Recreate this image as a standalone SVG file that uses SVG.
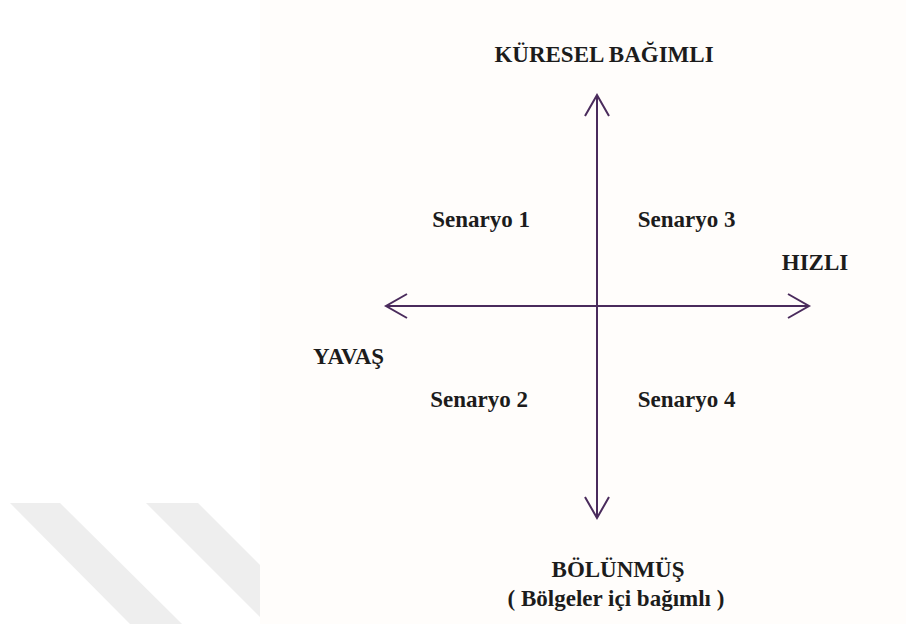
<svg xmlns="http://www.w3.org/2000/svg" width="906" height="624" viewBox="0 0 906 624">
  <style>
    .lbl { font-family: "Liberation Serif", "Times New Roman", serif; font-weight: bold; font-size: 23px; fill: #1c1c1c; text-anchor: middle; }
    .axis { stroke: #4a2b5c; stroke-width: 2; fill: none; }
    .stripe { fill: #eeeeee; }
  </style>
  <defs>
    <marker id="openArrow" markerUnits="userSpaceOnUse" markerWidth="30" markerHeight="30" viewBox="-25 -15 30 30" refX="0" refY="0" orient="auto">
      <path d="M-21,-12 L0,0 L-21,12" fill="none" stroke="#4a2b5c" stroke-width="2"/>
    </marker>
  </defs>
  <rect x="0" y="0" width="906" height="624" fill="#ffffff"/>
  <rect x="260" y="0" width="646" height="624" fill="#fffdfb"/>
  <g id="watermark">
    <polygon class="stripe" points="10,503 60,503 182,624 130,624"/>
    <polygon class="stripe" points="146,503 198,503 260,565 260,617"/>
  </g>
  <g id="connectors">
    <line class="axis" x1="597" y1="306" x2="597" y2="95" marker-end="url(#openArrow)"/>
    <line class="axis" x1="597" y1="306" x2="597" y2="518" marker-end="url(#openArrow)"/>
    <line class="axis" x1="597" y1="306" x2="386" y2="306" marker-end="url(#openArrow)"/>
    <line class="axis" x1="597" y1="306" x2="809" y2="306" marker-end="url(#openArrow)"/>
  </g>
  <g id="top"><text class="lbl" x="604" y="62">KÜRESEL BAĞIMLI</text></g>
  <g id="right"><text class="lbl" x="815" y="270">HIZLI</text></g>
  <g id="left"><text class="lbl" x="348.5" y="364">YAVAŞ</text></g>
  <g id="bottom">
    <text class="lbl" x="618" y="577">BÖLÜNMÜŞ</text>
    <text class="lbl" x="616" y="606">( Bölgeler içi bağımlı )</text>
  </g>
  <g id="s1"><text class="lbl" x="481" y="227">Senaryo 1</text></g>
  <g id="s3"><text class="lbl" x="686.5" y="227">Senaryo 3</text></g>
  <g id="s2"><text class="lbl" x="479" y="407">Senaryo 2</text></g>
  <g id="s4"><text class="lbl" x="686.5" y="407">Senaryo 4</text></g>
</svg>
